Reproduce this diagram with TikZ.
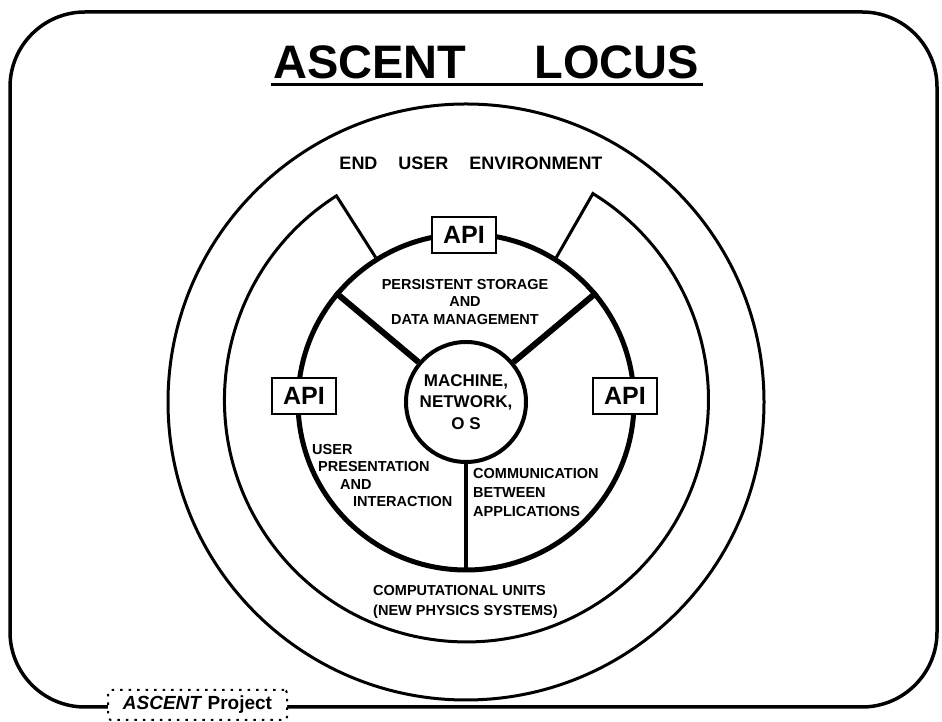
\documentclass[tikz,border=0pt]{standalone}
\usepackage{fontspec}
\setmainfont{Liberation Sans}
\usepackage{tikz}
\def\titlesize{\fontsize{47}{56}\selectfont}
\def\ringsize{\fontsize{18}{22}\selectfont}
\def\apisize{\fontsize{25}{30}\selectfont}
\def\coresize{\fontsize{17}{21.5}\selectfont}
\def\labelsize{\fontsize{14.5}{17.5}\selectfont}

\begin{document}
\begin{tikzpicture}[x=1pt,y=1pt,
  ring/.style={line width=3pt},
  api/.style={draw,fill=white,line width=2pt,inner sep=0pt,minimum width=64pt,minimum height=36pt,font=\bfseries\apisize},
  spoke/.style={line width=6pt},
  lbl/.style={inner sep=0pt,align=left,font=\bfseries\labelsize}]
\useasboundingbox (0,0) rectangle (942,722);
% frame and title
\draw[line width=3.5pt,rounded corners=75pt] (10,15) rectangle (937,710);
\draw[] (486,660) node[inner sep=0pt,font=\bfseries\titlesize] (title) {ASCENT\hspace{68pt}LOCUS};
\draw[line width=3pt] ([xshift=-2pt,yshift=-6pt]title.south west) -- ([xshift=4pt,yshift=-6pt]title.south east);

% rings
\node[draw,ring,circle,inner sep=0pt,minimum size=596pt] (env) at (466,320) {};
\node[inner sep=0pt,font=\bfseries\ringsize] (enduser) at (471,558.5) {END\hspace{21pt}USER\hspace{21pt}ENVIRONMENT};
\node[draw,circle,line width=5pt,inner sep=0pt,minimum size=336pt] (layer) at (466,320) {};
\draw[ring] (layer.122.5) -- ++(122.5:73) arc[start angle=122.5,end angle=418.5,radius=242] -- (layer.58.5);

% core and spokes
\node[draw,circle,line width=4pt,inner sep=0pt,minimum size=120pt,align=center,font=\bfseries\coresize] (core) at (466,320) {MACHINE,\\NETWORK,\\O S};
\draw[spoke] (core.140) -- (layer.140);
\draw[spoke] (core.40) -- (layer.40);
\draw[line width=4pt] (core.south) -- (layer.south);

\node[api] (apitop) at (464,487) {API};
\node[api] (apileft) at (304,326) {API};
\node[api] (apiright) at (625,326) {API};

% sector labels
\node[lbl,align=center] (storage) at (465,420) {PERSISTENT STORAGE\\AND\\DATA MANAGEMENT};
\node[lbl,anchor=west] (present) at (312,246.5) {USER\\\hspace{6pt}PRESENTATION\\\hspace{28pt}AND\\\hspace{41pt}INTERACTION};
\node[lbl,anchor=west,font=\bfseries\fontsize{14.5}{19}\selectfont] (comm) at (473,229) {COMMUNICATION\\BETWEEN\\APPLICATIONS};
\node[lbl,anchor=west,font=\bfseries\fontsize{14.5}{20}\selectfont] (units) at (373,120) {COMPUTATIONAL UNITS\\(NEW PHYSICS SYSTEMS)};

% project tag on the frame
\node[draw,fill=white,line width=2pt,dash pattern=on 2.5pt off 6pt,rounded corners=3pt,inner sep=0pt,minimum width=179pt,minimum height=30pt,font=\bfseries\fontsize{19}{22}\selectfont] (project) at (197.5,17) {\textit{ASCENT} Project};
\end{tikzpicture}
\end{document}
